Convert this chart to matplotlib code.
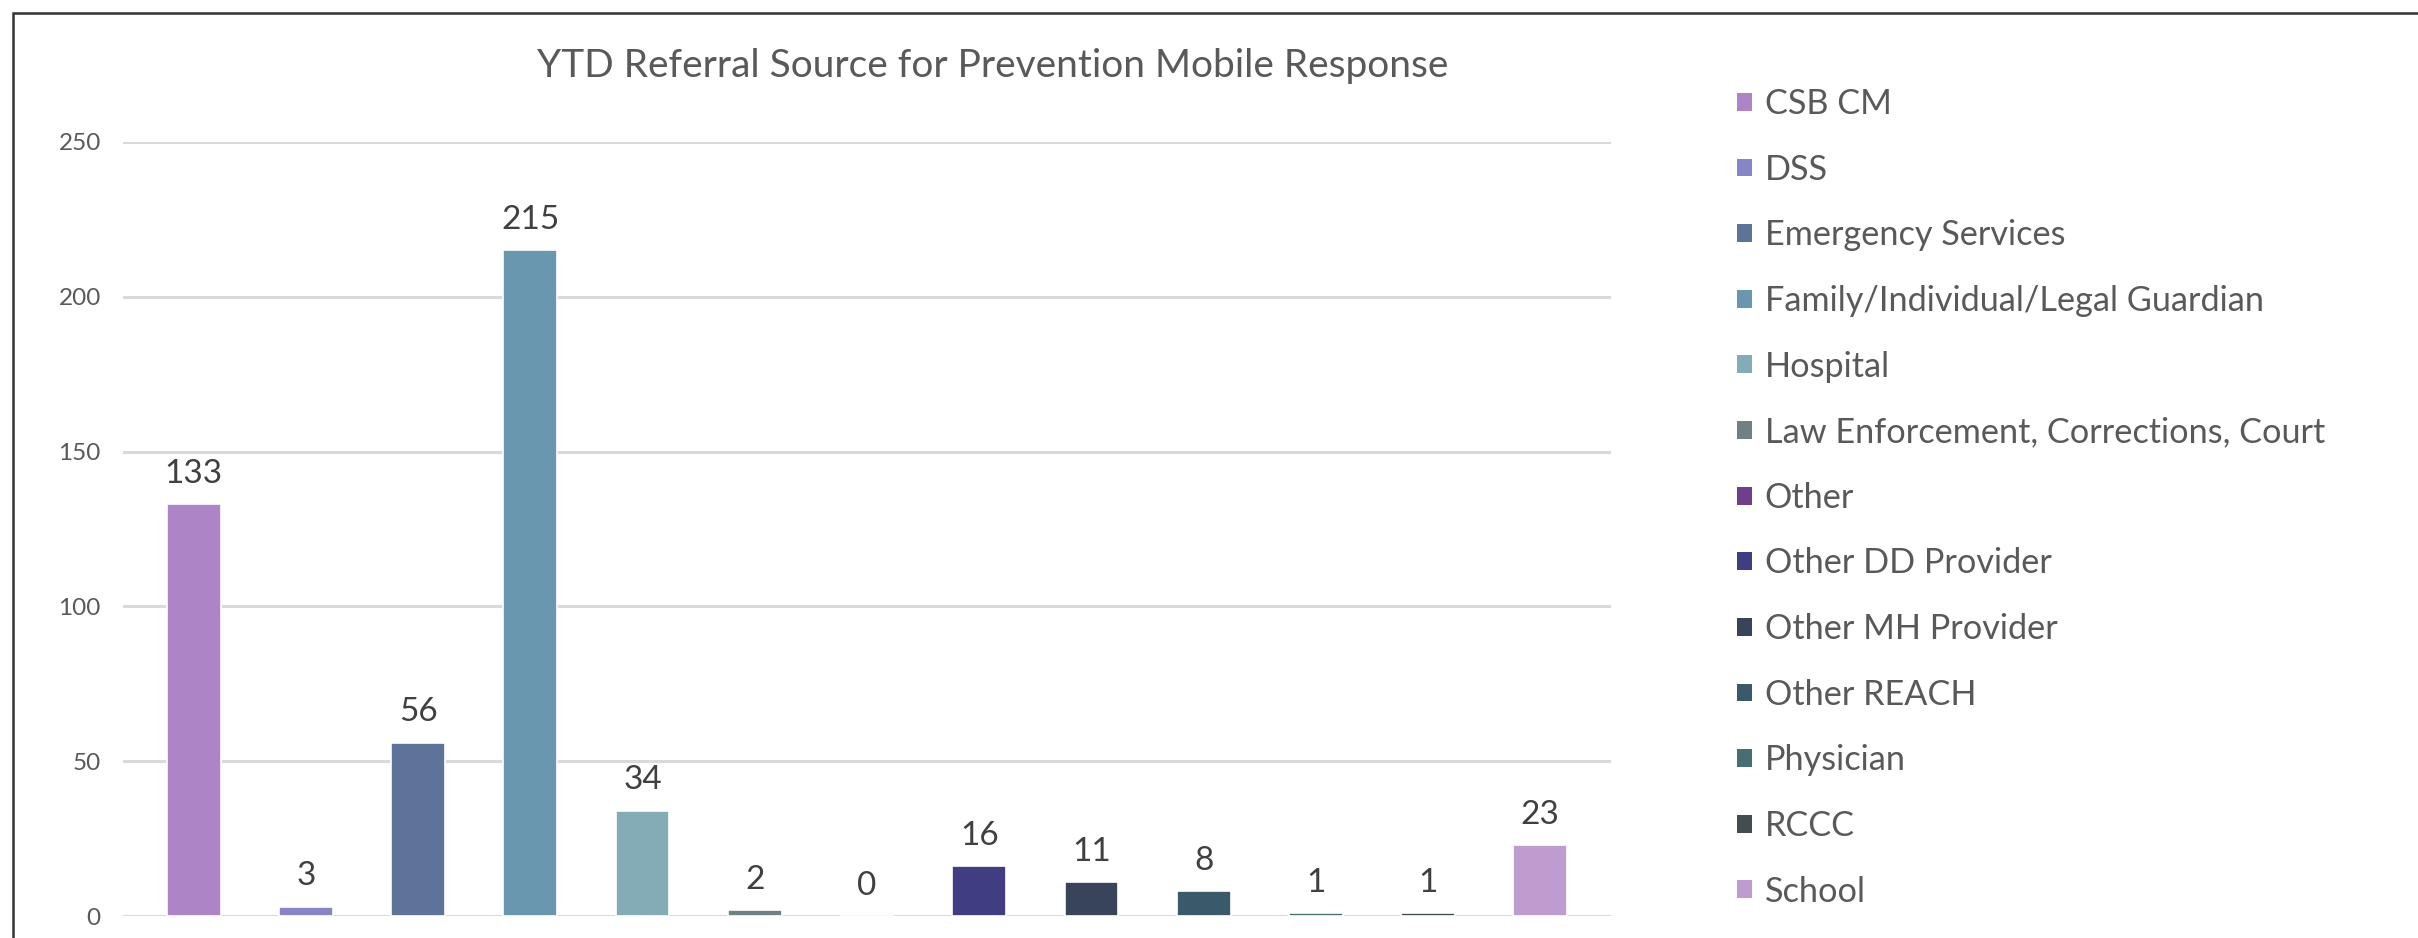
import matplotlib
matplotlib.use('Agg')
import matplotlib.pyplot as plt
from matplotlib.patches import Patch, Rectangle
import numpy as np

# chart data
sources = ['CSB CM', 'DSS', 'Emergency Services', 'Family/Individual/Legal Guardian',
           'Hospital', 'Law Enforcement, Corrections, Court', 'Other',
           'Other DD Provider', 'Other MH Provider', 'Other REACH', 'Physician',
           'RCCC', 'School']
counts = [133, 3, 56, 215, 34, 2, 0, 16, 11, 8, 1, 1, 23]
colors = ['#AD84C6', '#8784C7', '#5D739A', '#6997AF', '#84ACB6', '#6F8183',
          '#6F3F8C', '#403D83', '#38445A', '#3A5A6B', '#466E73', '#434D50',
          '#BE9CCF']
y_ticks = [0, 50, 100, 150, 200, 250]

plt.rcParams['font.family'] = ['Lato', 'DejaVu Sans']

W, H = 2418, 938
fig = plt.figure(figsize=(W / 100, H / 100), dpi=100)
ax = fig.add_axes([123 / W, 1 - 916 / H, (1611 - 123) / W, (916 - 142) / H])

x = np.arange(len(sources))
ax.bar(x, counts, width=0.48, color=colors, edgecolor='white',
       linewidth=1.2, zorder=3)

# value labels above each bar
for xi, v in zip(x, counts):
    ax.annotate(str(v), (xi, v), xytext=(0, 11), textcoords='offset points',
                ha='center', va='bottom', fontsize=24, color='#404040')

ax.set_ylim(0, 250)
ax.set_xlim(-0.63, len(sources) - 0.37)
ax.set_yticks(y_ticks)
ax.yaxis.grid(True, color='#D9D9D9', linewidth=2.2, zorder=0)
ax.tick_params(axis='y', length=0, pad=16, labelsize=17.5, labelcolor='#595959')
ax.set_xticks([])
for s in ax.spines.values():
    s.set_visible(False)

fig.text(993 / W, 1 - 66 / H, 'YTD Referral Source for Prevention Mobile Response',
         ha='center', va='center', fontsize=28, color='#595959')

handles = [Patch(facecolor=c, edgecolor='none') for c in colors]
fig.legend(handles, sources, loc='upper left',
           bbox_to_anchor=(1720 / W, 1 - 71 / H), frameon=False, borderpad=0,
           fontsize=24.7, labelcolor='#595959', handlelength=0.42,
           handleheight=0.42, handletextpad=0.38, labelspacing=0.98)

# outer chart border (only top and left visible in the crop)
fig.patches.append(Rectangle((13 / W, -0.05), 1.1, 1 - 13 / H + 0.05,
                             transform=fig.transFigure, fill=False,
                             edgecolor='#333333', linewidth=1.8))

fig.savefig('out.png', dpi=100)
